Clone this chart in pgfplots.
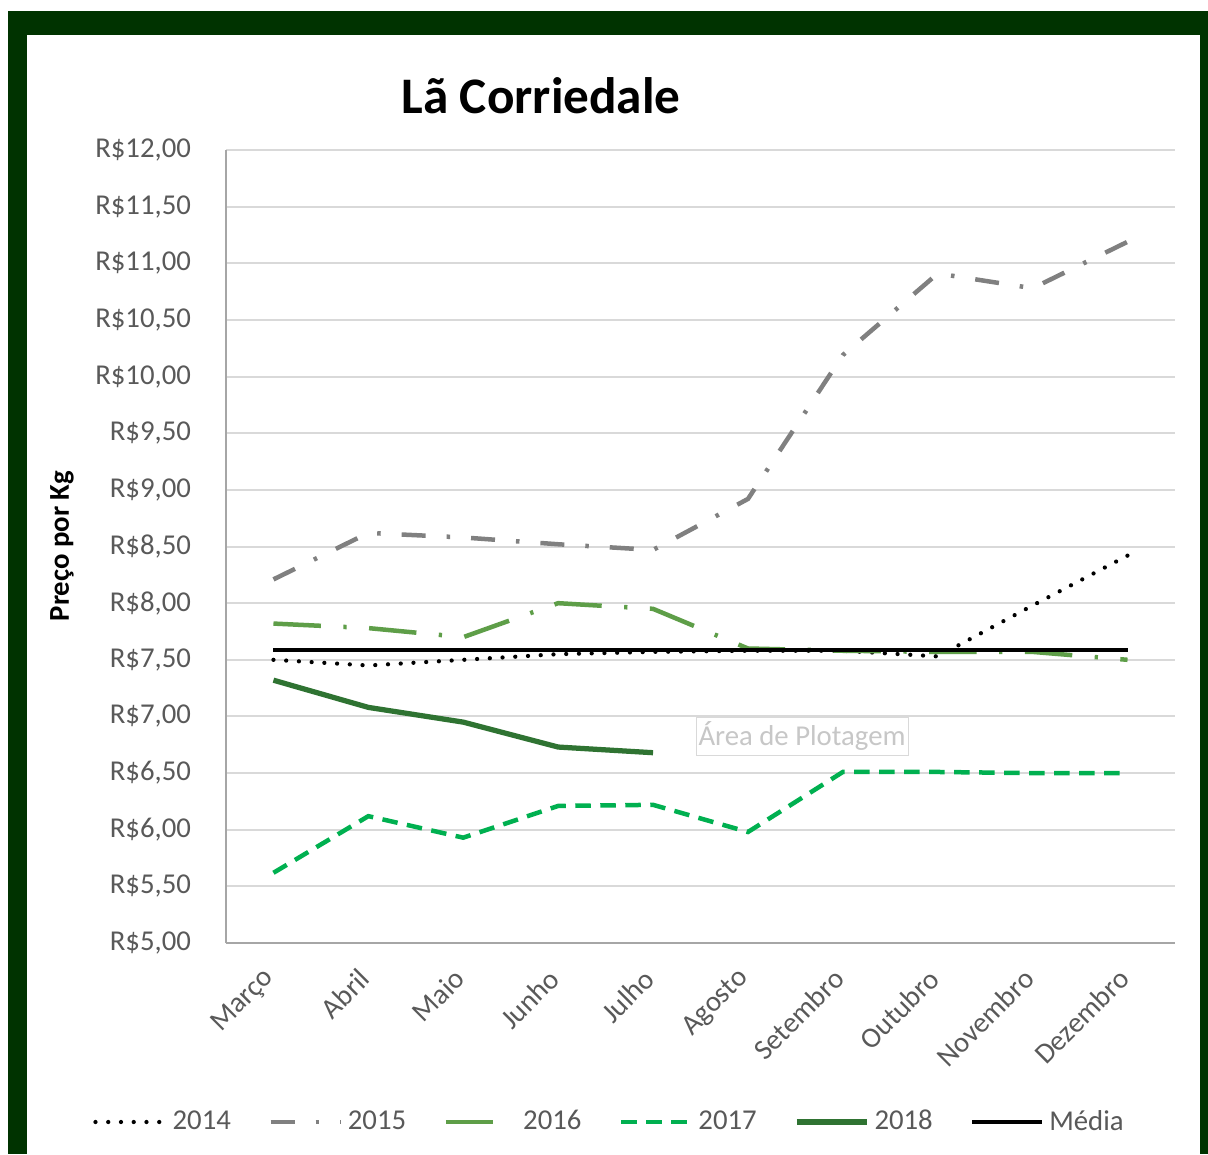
\documentclass[border=0pt]{standalone}
\usepackage{fontspec}
\setmainfont{Carlito}
\usepackage{pgfplots}
\pgfplotsset{compat=1.18}
\definecolor{frame}{HTML}{003300}
\definecolor{gridc}{HTML}{D9D9D9}
\definecolor{axc}{HTML}{A6A6A6}
\definecolor{txt}{HTML}{595959}
\definecolor{c15}{HTML}{808080}
\definecolor{c16}{HTML}{5E9E48}
\definecolor{c17}{HTML}{00B050}
\definecolor{c18}{HTML}{2F7332}
\begin{document}
\begin{tikzpicture}
\path[use as bounding box] (0,0) rectangle (483.2pt,-461.6pt);
\fill[white] (0,0) rectangle (483.2pt,-461.6pt);
\fill[frame] (3.2pt,-4.4pt) rectangle (483.2pt,-461.6pt);
\fill[white] (10.8pt,-14pt) rectangle (480pt,-461.6pt);
\node[font=\bfseries\fontsize{20.5}{24}\selectfont] at (216.4pt,-38.4pt) {Lã Corriedale};
\node[rotate=90,font=\bfseries\fontsize{11.5}{14}\selectfont] at (24.8pt,-218.4pt) {Preço por Kg};
\begin{axis}[
  at={(90.4pt,-377.2pt)}, anchor=south west,
  scale only axis, width=379.6pt, height=317.2pt,
  xmin=-0.5, xmax=9.5, ymin=5, ymax=12,
  ytick={5,5.5,6,6.5,7,7.5,8,8.5,9,9.5,10,10.5,11,11.5,12},
  yticklabels={{R\$5,00},{R\$5,50},{R\$6,00},{R\$6,50},{R\$7,00},{R\$7,50},{R\$8,00},{R\$8,50},{R\$9,00},{R\$9,50},{R\$10,00},{R\$10,50},{R\$11,00},{R\$11,50},{R\$12,00}},
  xtick={0,1,2,3,4,5,6,7,8,9},
  xticklabels={Março,Abril,Maio,Junho,Julho,Agosto,Setembro,Outubro,Novembro,Dezembro},
  major tick length=0pt,
  axis lines*=left,
  axis line style={color=axc, line width=0.8pt},
  ymajorgrids, grid style={color=gridc, line width=0.8pt},
  tick label style={font=\fontsize{11.5}{13}\selectfont, text=txt},
  yticklabel style={xshift=-10.5pt},
  xticklabel style={yshift=-10pt, xshift=1pt, rotate=45, anchor=east},
  legend columns=6,
  legend style={at={(0.4057,-0.2257)}, anchor=center, draw=none, fill=none,
    font=\fontsize{11.5}{13}\selectfont, text=txt,
    /tikz/every even column/.append style={column sep=13pt}},
  legend image code/.code={\draw[#1] (0pt,0pt) -- (28pt,0pt);},
]
\addplot[black, line width=1.7pt, line cap=round, dash pattern=on 0pt off 5.1pt] coordinates {
(0,7.50) (1,7.45) (2,7.50) (3,7.55) (4,7.57) (5,7.58) (6,7.58) (7,7.53) (8,7.98) (9,8.42)};
\addlegendentry{2014}
\addplot[c15, line width=1.8pt, dash pattern=on 9.6pt off 8.4pt on 1.4pt off 8.4pt] coordinates {
(0,8.21) (1,8.62) (2,8.58) (3,8.52) (4,8.47) (5,8.92) (6,10.19) (7,10.91) (8,10.78) (9,11.19)};
\addlegendentry{2015}
\addplot[c16, line width=1.8pt, dash pattern=on 19pt off 9pt on 1.3pt off 9pt] coordinates {
(0,7.82) (1,7.78) (2,7.70) (3,8.00) (4,7.95) (5,7.60) (6,7.58) (7,7.57) (8,7.57) (9,7.50)};
\addlegendentry{2016}
\addplot[c17, line width=1.8pt, dash pattern=on 6.2pt off 3.8pt] coordinates {
(0,5.62) (1,6.12) (2,5.93) (3,6.21) (4,6.22) (5,5.98) (6,6.51) (7,6.51) (8,6.50) (9,6.50)};
\addlegendentry{2017}
\addplot[c18, line width=2.1pt] coordinates {
(0,7.32) (1,7.08) (2,6.95) (3,6.73) (4,6.68)};
\addlegendentry{2018}
\addplot[black, line width=1.6pt] coordinates {
(0,7.59) (1,7.59) (2,7.59) (3,7.59) (4,7.59) (5,7.59) (6,7.59) (7,7.59) (8,7.59) (9,7.59)};
\addlegendentry{Média}
\end{axis}
\node[draw=gridc, fill=white, text=gridc!80!gray, font=\fontsize{11.5}{13}\selectfont, minimum width=84.4pt, minimum height=15.2pt, inner sep=1pt] at (320.8pt,-294.4pt) {Área de Plotagem};
\end{tikzpicture}
\end{document}
